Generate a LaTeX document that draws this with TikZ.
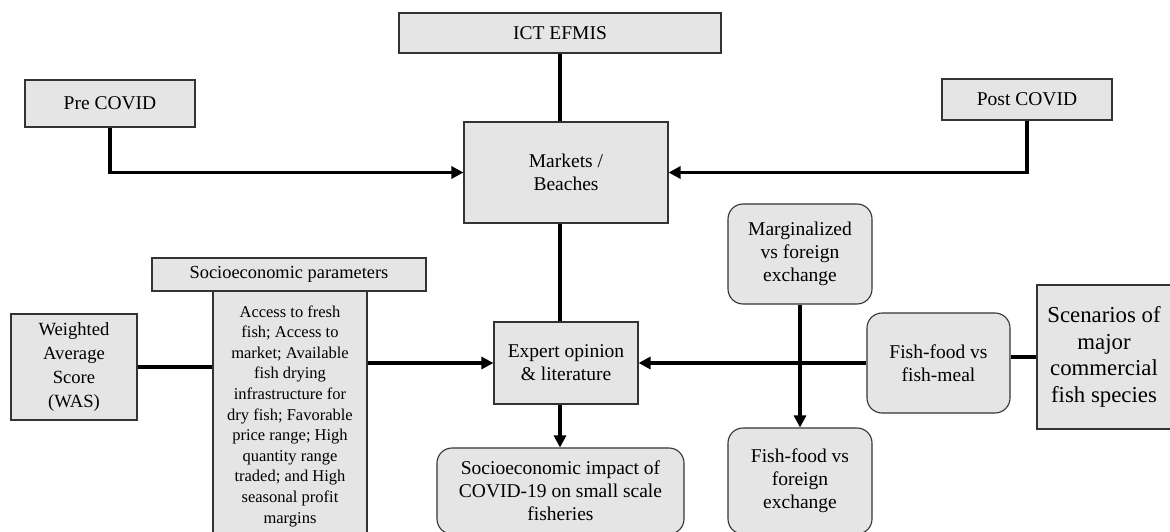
\documentclass[tikz,border=0pt]{standalone}
\usepackage{fontspec}
\setmainfont{Liberation Serif}
\usetikzlibrary{arrows.meta}
\begin{document}
\begin{tikzpicture}[x=1pt,y=-1pt,
    box/.style={draw=gray!40!black, line width=1.1pt, fill=gray!20, align=center, inner sep=0pt,
        font=\fontsize{19.5}{23}\selectfont},
    rbox/.style={box, rounded corners=15pt},
    link/.style={line width=3.5pt},
    arr/.style={link, -{Triangle[length=12pt,width=12pt]}}]
    \useasboundingbox (0,0) rectangle (1170,532);
    \node [box, minimum width=322pt, minimum height=40pt] (ict) at (560,33) {ICT EFMIS};
    \node [box, minimum width=170pt, minimum height=47pt] (pre) at (110,103.5) {Pre COVID};
    \node [box, minimum width=170pt, minimum height=41pt] (post) at (1027,99.5) {Post COVID};
    \node [box, minimum width=204pt, minimum height=101pt] (markets) at (566,172.5) {Markets /\\Beaches};
    \node [box, minimum width=274pt, minimum height=33pt, font=\fontsize{18.4}{22}\selectfont] (socpar) at (289,274.5) {Socioeconomic parameters};
    \node [box, minimum width=154pt, minimum height=250pt, font=\fontsize{16.5}{20.6}\selectfont] (plist) at (290,416)
        {Access to fresh\\fish; Access to\\market; Available\\fish drying\\infrastructure for\\dry fish; Favorable\\price range; High\\quantity range\\traded; and High\\seasonal profit\\margins};
    \node [box, minimum width=126pt, minimum height=106pt, font=\fontsize{18.6}{24.2}\selectfont] (was) at (74,367) {Weighted\\Average\\Score\\(WAS)};
    \node [box, minimum width=144pt, minimum height=82pt] (expert) at (566,363) {Expert opinion\\\& literature};
    \node [rbox, minimum width=247pt, minimum height=86pt] (impact) at (560.5,491) {Socioeconomic impact of\\COVID-19 on small scale\\fisheries};
    \node [rbox, minimum width=144pt, minimum height=100pt] (margin) at (800,254) {Marginalized\\vs foreign\\exchange};
    \node [rbox, minimum width=144pt, minimum height=106pt] (ffex) at (800,481) {Fish-food vs\\foreign\\exchange};
    \node [rbox, minimum width=143pt, minimum height=100pt] (ffmeal) at (938.5,363) {Fish-food vs\\fish-meal};
    \node [box, minimum width=134pt, minimum height=144pt, font=\fontsize{22.8}{26.7}\selectfont] (scen) at (1104,357) {Scenarios of\\major\\commercial\\fish species};
    \draw [link] (ict.south) -- (ict.south |- markets.north);
    \draw [arr] (pre.south) |- (markets.west);
    \draw [arr] (post.south) |- (markets.east);
    \draw [link] (markets.south -| ict.south) -- (expert.north -| ict.south);
    \draw [link] (was.east) -- (plist.west |- was.east);
    \draw [arr] (plist.east |- expert.west) -- (expert.west);
    \draw [arr] (expert.south -| ict.south) -- (impact.north -| ict.south);
    \draw [link] (scen.west) -- (ffmeal.east |- scen.west);
    \draw [arr] (ffmeal.west) -- (expert.east);
    \draw [arr] (margin.south) -- (ffex.north);
\end{tikzpicture}
\end{document}
